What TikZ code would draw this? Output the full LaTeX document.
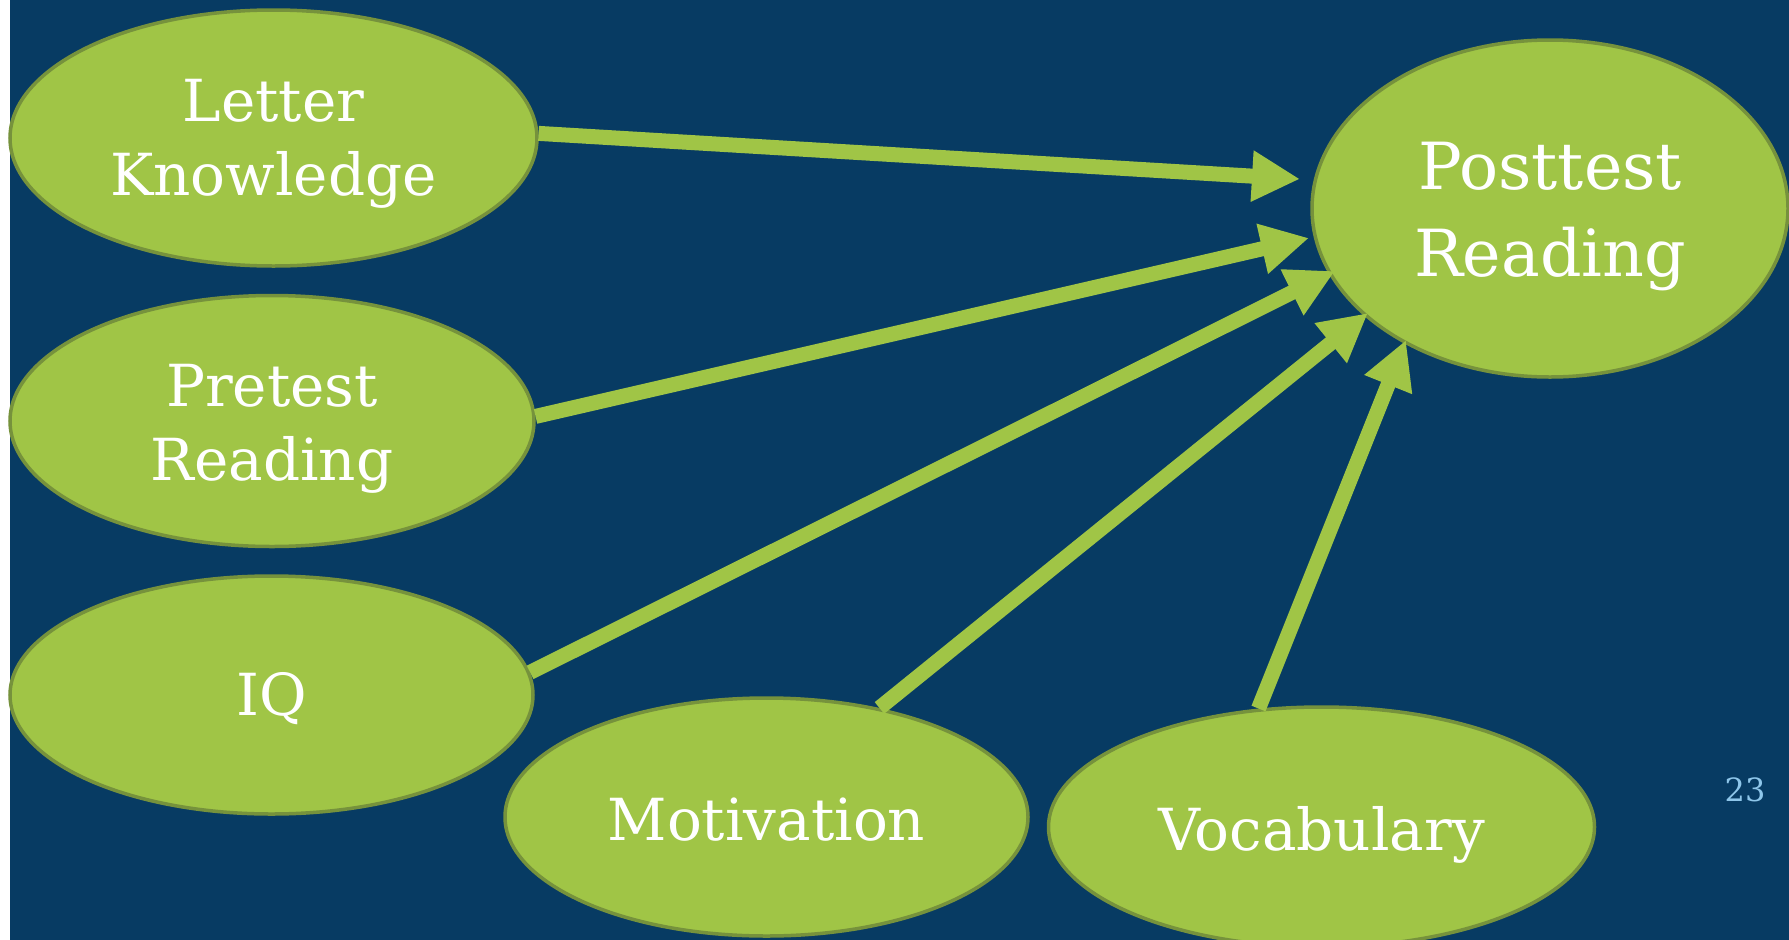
\documentclass[tikz,border=0pt]{standalone}
\usepackage{fontspec}
\setmainfont{DejaVu Serif}
\usetikzlibrary{arrows.meta,shapes.geometric}
\definecolor{slidebg}{HTML}{073B63}
\definecolor{leaf}{HTML}{A0C546}
\definecolor{leafedge}{HTML}{76923C}
\definecolor{pagenum}{HTML}{8EC6EA}
\tikzset{
  factor/.style={ellipse, draw=leafedge, line width=3.5pt, fill=leaf, inner sep=0pt,
    text=white, align=center, font=\fontsize{58}{74}\selectfont, text depth=0pt},
  outcome/.style={factor, font=\fontsize{65}{87}\selectfont},
  % baseline of the last text line sits #1 below the node centre
  drop/.style={text height=2*#1},
  effect/.style={draw=leaf, line width=15pt, -{Triangle[length=48pt,width=48pt]}}
}
\begin{document}
\begin{tikzpicture}[x=1pt,y=-1pt]
  % page and background panel
  \useasboundingbox (0,0) rectangle (1789,940);
  \clip (0,0) rectangle (1789,940);
  \fill[white] (0,0) rectangle (1789,940);
  \fill[slidebg] (10,0) rectangle (1789,940);

  % predictors and outcome
  \node[factor, drop=57pt, minimum width=527pt, minimum height=256pt] (lk)  at (273.5,138) {Letter\\Knowledge};
  \node[factor, drop=59pt, minimum width=524pt, minimum height=251pt] (pr)  at (272,421)   {Pretest\\Reading};
  \node[factor, drop=20pt, minimum width=523pt, minimum height=238pt] (iq)  at (271.5,695) {IQ};
  \node[factor, drop=23pt, minimum width=523pt, minimum height=238pt] (mot) at (766.5,817) {Motivation};
  \node[factor, drop=23pt, minimum width=546pt, minimum height=240pt] (voc) at (1321.5,827) {Vocabulary};
  \node[outcome, drop=68pt, minimum width=476pt, minimum height=337pt] (post) at (1550,208.5) {Posttest\\Reading};

  % arrow tips around the outcome
  \coordinate (t1) at (1300,179);
  \coordinate (t2) at (1309,238);
  \coordinate (t3) at (1335,271);
  \coordinate (t4) at (1368,313);
  \coordinate (t5) at (1406,340);

  \draw[effect] (lk.1)    -- (t1);
  \draw[effect] (pr.1)    -- (t2);
  \draw[effect] (iq.5)    -- (t3);
  \draw[effect] (mot.44)  -- (t4);
  \draw[effect] (voc.118) -- (t5);

  % slide number
  \node[text=pagenum, font=\fontsize{32}{38}\selectfont] (num) at (1745,790) {23};
\end{tikzpicture}
\end{document}
